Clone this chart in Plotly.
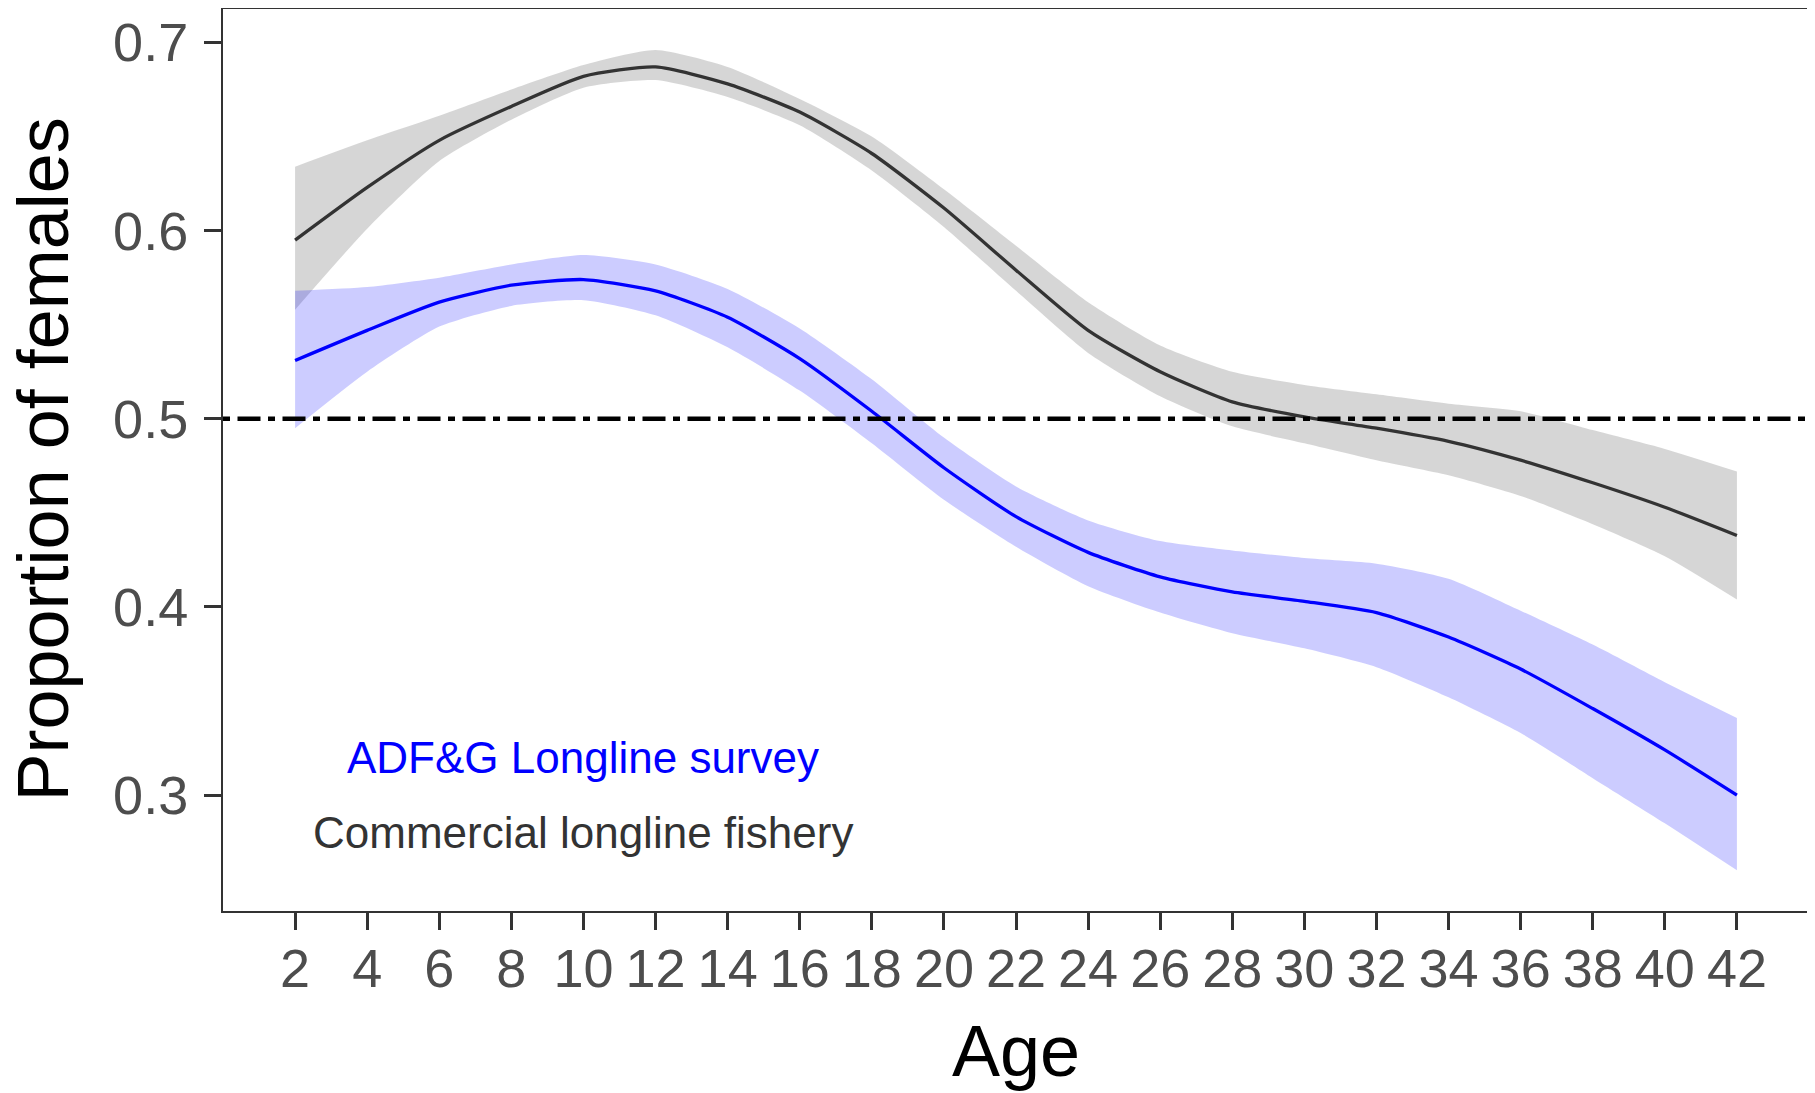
import plotly.graph_objects as go

ages = [2, 4, 6, 8, 10, 12, 14, 16, 18, 20, 22, 24, 26, 28, 30, 32, 34, 36, 38, 40, 42]

comm_fit = [0.595, 0.623, 0.648, 0.666, 0.682, 0.687, 0.678, 0.663, 0.641, 0.612, 0.579,
            0.547, 0.525, 0.509, 0.501, 0.495, 0.488, 0.478, 0.466, 0.453, 0.438]
comm_hi = [0.634, 0.648, 0.661, 0.675, 0.688, 0.696, 0.687, 0.670, 0.650, 0.622, 0.592,
           0.562, 0.539, 0.525, 0.518, 0.513, 0.508, 0.504, 0.494, 0.484, 0.472]
comm_lo = [0.558, 0.601, 0.637, 0.659, 0.676, 0.680, 0.671, 0.656, 0.632, 0.602, 0.568,
           0.535, 0.512, 0.496, 0.487, 0.478, 0.470, 0.459, 0.444, 0.427, 0.404]

surv_fit = [0.531, 0.547, 0.562, 0.571, 0.574, 0.568, 0.554, 0.532, 0.504, 0.474, 0.448,
            0.429, 0.416, 0.408, 0.403, 0.397, 0.384, 0.367, 0.346, 0.324, 0.300]
surv_hi = [0.568, 0.570, 0.575, 0.582, 0.587, 0.582, 0.569, 0.548, 0.521, 0.490, 0.464,
           0.446, 0.435, 0.430, 0.426, 0.423, 0.415, 0.398, 0.380, 0.360, 0.341]
surv_lo = [0.495, 0.525, 0.549, 0.560, 0.563, 0.555, 0.538, 0.515, 0.487, 0.457, 0.432,
           0.411, 0.397, 0.386, 0.378, 0.368, 0.352, 0.333, 0.309, 0.285, 0.260]

ref_level = 0.5
x_ticks = list(range(2, 43, 2))
y_ticks = [0.3, 0.4, 0.5, 0.6, 0.7]
labels = ["ADF&G Longline survey", "Commercial longline fishery"]

FONT = "Liberation Sans, Arial, sans-serif"
SPL = dict(shape="spline", smoothing=0.6)

fig = go.Figure()

def add_ribbon(lo, hi, color):
    fig.add_trace(go.Scatter(x=ages, y=lo, mode="lines", line=dict(width=0, **SPL),
                             hoverinfo="skip", showlegend=False))
    fig.add_trace(go.Scatter(x=ages, y=hi, mode="lines", line=dict(width=0, **SPL),
                             fill="tonexty", fillcolor=color,
                             hoverinfo="skip", showlegend=False))

add_ribbon(comm_lo, comm_hi, "rgba(120,120,120,0.3)")
add_ribbon(surv_lo, surv_hi, "rgba(0,0,255,0.2)")

fig.add_trace(go.Scatter(x=ages, y=comm_fit, mode="lines",
                         line=dict(color="#333333", width=3.3, **SPL), showlegend=False))
fig.add_trace(go.Scatter(x=ages, y=surv_fit, mode="lines",
                         line=dict(color="#0000FF", width=3.3, **SPL), showlegend=False))

fig.add_hline(y=ref_level, line=dict(color="black", width=4.5, dash="7px,7.5px,23px,7.5px"))

fig.add_annotation(x=10, y=0.32, text=labels[0], showarrow=False,
                   font=dict(family=FONT, size=44, color="#0000FF"))
fig.add_annotation(x=10, y=0.28, text=labels[1], showarrow=False,
                   font=dict(family=FONT, size=44, color="#333333"))

# axis titles
fig.add_annotation(xref="paper", yref="paper", x=0.5, y=-0.155, text="Age",
                   showarrow=False, font=dict(family=FONT, size=72, color="black"),
                   xanchor="center", yanchor="middle")
fig.add_annotation(xref="paper", yref="paper", x=-0.1138, y=0.5, text="Proportion of females",
                   showarrow=False, textangle=-90, font=dict(family=FONT, size=72, color="black"),
                   xanchor="center", yanchor="middle")

axis_common = dict(showline=True, linecolor="#333333", linewidth=2, mirror=True,
                   showgrid=False, zeroline=False, ticks="outside", ticklen=17,
                   tickwidth=2.5, tickcolor="#333333", automargin=False,
                   tickfont=dict(family=FONT, size=54, color="#4D4D4D"))

fig.update_xaxes(range=[0, 44], tickvals=x_ticks, ticktext=[str(v) for v in x_ticks],
                 ticklabelstandoff=-8, **axis_common)
fig.update_yaxes(range=[0.2384, 0.7178], tickvals=y_ticks, ticktext=[str(v) for v in y_ticks],
                 ticklabelstandoff=5, **axis_common)

# page body has an 8px margin: size the figure so page == 1815x1093
fig.update_layout(width=1807, height=1085, plot_bgcolor="white", paper_bgcolor="white",
                  margin=dict(l=215, r=6, t=1, b=182, pad=0), showlegend=False)

fig.write_html("out.html")
